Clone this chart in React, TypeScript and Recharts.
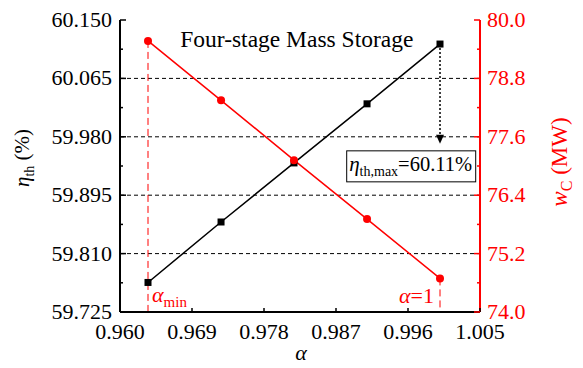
import React from "react"
import { ComposedChart, Line, XAxis, YAxis, ReferenceLine, ReferenceDot } from "recharts"

// values
const alpha = [0.9635, 0.97263, 0.98175, 0.99088, 1.0]
const etaTh = [59.768, 59.856, 59.942, 60.028, 60.115]
const wC = [79.57, 78.35, 77.12, 75.91, 74.69]

const xTicks = [0.96, 0.969, 0.978, 0.987, 0.996, 1.005]
const leftTicks = [59.725, 59.81, 59.895, 59.98, 60.065, 60.15]
const leftMinor = [59.7675, 59.8525, 59.9375, 60.0225, 60.1075]
const rightTicks = [74.0, 75.2, 76.4, 77.6, 78.8, 80.0]
const rightMinor = [74.6, 75.8, 77.0, 78.2, 79.4]

const title = "Four-stage Mass Storage"
const etaMaxText = "=60.11%"

const data = alpha.map((a, i) => ({ alpha: a, eta: etaTh[i], wc: wC[i] }))

const FONT = "'Liberation Serif', 'Times New Roman', serif"
const RED = "#ff0000"
const txt = (size: number, color = "#000") => ({ fontFamily: FONT, fontSize: size, fill: color })

function LeftTick(props: any) {
  const { x, y, payload } = props
  const major = leftTicks.includes(payload.value)
  return (
    <g>
      <line x1={x} x2={x + (major ? 6 : 3)} y1={y} y2={y} stroke="#000" strokeWidth={1.5} />
      {major && (
        <text x={x - 8} y={y + 7} textAnchor="end" style={txt(22)}>
          {payload.value.toFixed(3)}
        </text>
      )}
    </g>
  )
}

function RightTick(props: any) {
  const { x, y, payload } = props
  const major = rightTicks.includes(payload.value)
  return (
    <g>
      <line x1={x} x2={x - (major ? 6 : 3)} y1={y} y2={y} stroke={RED} strokeWidth={1.5} />
      {major && (
        <text x={x + 7} y={y + 7} textAnchor="start" style={txt(22, RED)}>
          {payload.value.toFixed(1)}
        </text>
      )}
    </g>
  )
}

function BottomTick(props: any) {
  const { x, y, payload } = props
  return (
    <g>
      <line x1={x} x2={x} y1={y} y2={y - 4} stroke="#000" strokeWidth={1.5} />
      <text x={x} y={y + 27} textAnchor="middle" style={txt(22)}>
        {payload.value.toFixed(3)}
      </text>
    </g>
  )
}

export default function App() {
  return (
    <div style={{ position: "absolute", left: 0, top: 0, width: 583, height: 368, background: "#fff" }}>
      <ComposedChart width={583} height={368} data={data} margin={{ top: 20, right: 0, bottom: 0, left: 0 }}>
        <XAxis
          dataKey="alpha"
          type="number"
          domain={[0.96, 1.005]}
          ticks={xTicks}
          interval={0}
          allowDataOverflow
          height={56}
          tickSize={0}
          tickMargin={0}
          tickLine={false}
          tick={<BottomTick />}
          axisLine={{ stroke: "#000", strokeWidth: 2 }}
          label={{
            content: (p: any) => (
              <text
                x={p.viewBox.x + p.viewBox.width / 2 + 1}
                y={p.viewBox.y + 48}
                textAnchor="middle"
                style={{ ...txt(22), fontStyle: "italic" }}
              >
                α
              </text>
            ),
          }}
        />
        <XAxis
          xAxisId="top"
          orientation="top"
          type="number"
          domain={[0.96, 1.005]}
          height={0}
          tick={false}
          tickLine={false}
          axisLine={{ stroke: "#000", strokeWidth: 1.5 }}
        />
        <YAxis
          yAxisId="l"
          orientation="left"
          type="number"
          width={120}
          domain={[59.725, 60.15]}
          ticks={[...leftTicks, ...leftMinor]}
          interval={0}
          allowDataOverflow
          tickSize={0}
          tickMargin={0}
          tickLine={false}
          tick={<LeftTick />}
          axisLine={{ stroke: "#000", strokeWidth: 2 }}
          label={{
            content: (p: any) => {
              const x = p.viewBox.x + 29
              const y = p.viewBox.y + p.viewBox.height / 2 - 8
              return (
                <text x={x} y={y} transform={`rotate(-90, ${x}, ${y})`} textAnchor="middle" style={txt(21)}>
                  <tspan fontStyle="italic">η</tspan>
                  <tspan fontSize={14} dy={5}>th</tspan>
                  <tspan dy={-5}> (%)</tspan>
                </text>
              )
            },
          }}
        />
        <YAxis
          yAxisId="r"
          orientation="right"
          type="number"
          width={103}
          domain={[74, 80]}
          ticks={[...rightTicks, ...rightMinor]}
          interval={0}
          allowDataOverflow
          tickSize={0}
          tickMargin={0}
          tickLine={false}
          tick={<RightTick />}
          axisLine={{ stroke: RED, strokeWidth: 2 }}
          label={{
            content: (p: any) => {
              const x = p.viewBox.x + 87
              const y = p.viewBox.y + p.viewBox.height / 2 - 4
              return (
                <text x={x} y={y} transform={`rotate(-90, ${x}, ${y})`} textAnchor="middle" style={txt(23, RED)}>
                  <tspan fontStyle="italic">w</tspan>
                  <tspan fontSize={16} dy={5}>C</tspan>
                  <tspan dy={-5}> (MW)</tspan>
                </text>
              )
            },
          }}
        />

        {leftTicks.slice(1, -1).map((v) => (
          <ReferenceLine key={v} yAxisId="l" y={v} stroke="#000" strokeWidth={1} strokeDasharray="4 3" />
        ))}

        <ReferenceLine
          yAxisId="r"
          segment={[
            { x: alpha[0], y: wC[0] },
            { x: alpha[0], y: 74 },
          ]}
          stroke={RED}
          strokeWidth={1}
          strokeDasharray="7 4"
        />
        <ReferenceLine
          yAxisId="r"
          segment={[
            { x: alpha[4], y: wC[4] },
            { x: alpha[4], y: 74 },
          ]}
          stroke={RED}
          strokeWidth={1}
          strokeDasharray="7 4"
        />
        <ReferenceLine
          yAxisId="l"
          segment={[
            { x: alpha[4], y: etaTh[4] },
            { x: alpha[4], y: 59.982 },
          ]}
          stroke="#000"
          strokeWidth={1.5}
          strokeDasharray="2 2"
        />
        <ReferenceDot
          yAxisId="l"
          x={alpha[4]}
          y={59.97}
          r={0}
          ifOverflow="visible"
          shape={(p: any) => (
            <polygon points={`${p.cx - 4},${p.cy - 9} ${p.cx + 4},${p.cy - 9} ${p.cx},${p.cy}`} fill="#000" />
          )}
        />
        <ReferenceDot
          yAxisId="l"
          x={0.9821}
          y={60.15}
          r={0}
          ifOverflow="visible"
          shape={(p: any) => (
            <text x={p.cx} y={p.cy + 27} textAnchor="middle" style={txt(23.5)}>
              {title}
            </text>
          )}
        />
        <ReferenceDot
          yAxisId="l"
          x={0.9964}
          y={59.937}
          r={0}
          ifOverflow="visible"
          shape={(p: any) => (
            <g>
              <rect x={p.cx - 64.5} y={p.cy - 15.5} width={129} height={31} fill="#fff" stroke="#000" strokeWidth={1} />
              <text x={p.cx - 62} y={p.cy + 5} style={txt(20.5)}>
                <tspan fontStyle="italic" fontSize={21}>η</tspan>
                <tspan fontSize={14} dy={5}>th,max</tspan>
                <tspan dy={-5}>{etaMaxText}</tspan>
              </text>
            </g>
          )}
        />
        <ReferenceDot
          yAxisId="r"
          x={alpha[0]}
          y={74}
          r={0}
          ifOverflow="visible"
          shape={(p: any) => (
            <text x={p.cx + 4} y={p.cy - 10} style={txt(22, RED)}>
              <tspan fontStyle="italic">α</tspan>
              <tspan fontSize={15} dy={5}>min</tspan>
            </text>
          )}
        />
        <ReferenceDot
          yAxisId="r"
          x={alpha[4]}
          y={74}
          r={0}
          ifOverflow="visible"
          shape={(p: any) => (
            <text x={p.cx - 6} y={p.cy - 9} textAnchor="end" style={txt(22, RED)}>
              <tspan fontStyle="italic">α</tspan>
              <tspan>=1</tspan>
            </text>
          )}
        />

        <Line
          yAxisId="l"
          dataKey="eta"
          stroke="#000"
          strokeWidth={1.5}
          isAnimationActive={false}
          dot={(p: any) => (
            <rect key={`b${p.index}`} x={p.cx - 3.5} y={p.cy - 3.5} width={7} height={7} fill="#000" />
          )}
        />
        <Line
          yAxisId="r"
          dataKey="wc"
          stroke={RED}
          strokeWidth={1.5}
          isAnimationActive={false}
          dot={(p: any) => <circle key={`r${p.index}`} cx={p.cx} cy={p.cy} r={4} fill={RED} />}
        />
      </ComposedChart>
    </div>
  )
}
